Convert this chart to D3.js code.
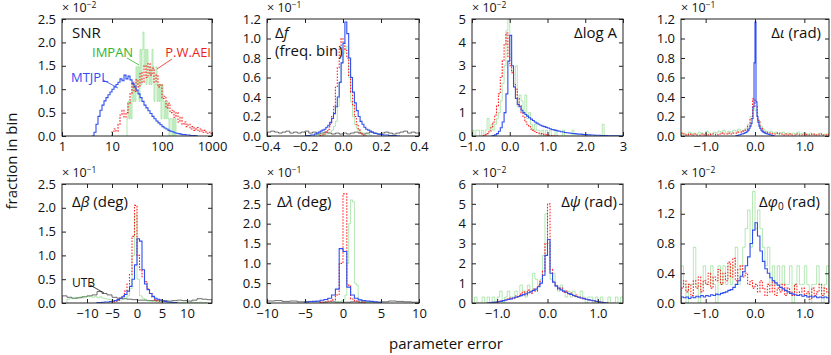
<!DOCTYPE html>
<html>
<head>
<meta charset="utf-8">
<script src="https://d3js.org/d3.v7.min.js"></script>
<style>
  body { margin: 0; background: #fff; }
  svg text { font-family: "Open Sans", "Noto Sans", sans-serif; fill: #111; }
  .tick text { font-size: 13px; }
  .tick line { stroke: #222; }
</style>
</head>
<body>
<div id="chart"></div>
<script>
// ---------- data (fraction in bin, in units of the panel multiplier) ----------
// each series: values + [first bin edge, bin width]

// SNR panel, bins in log10(SNR)
const snrBlue = [0, 0.08, 0.25, 0.42, 0.55, 0.66, 0.75, 0.82, 0.88, 0.94, 1.0, 1.05, 1.1, 1.15, 1.22, 1.18, 1.3, 1.22, 1.28, 1.2, 1.12, 1.05, 0.98, 0.9, 0.82, 0.74, 0.66, 0.6, 0.54, 0.48, 0.42, 0.37, 0.32, 0.28, 0.24, 0.2, 0.17, 0.15, 0.12, 0.1, 0.09, 0.07, 0.06, 0.05, 0.04, 0.03, 0.03, 0.02, 0.02, 0.01, 0.01, 0.01, 0];
const snrBlueBin = [0.6, 0.04];
const snrRed = [0.1, 0.15, 0.1, 0.25, 0.45, 0.55, 0.4, 0.5, 0.7, 0.9, 1.15, 0.95, 1.2, 1.05, 1.35, 1.15, 1.5, 1.25, 1.55, 1.3, 1.45, 1.15, 1.3, 1.05, 1.1, 0.8, 0.85, 0.6, 0.7, 0.5, 0.55, 0.4, 0.5, 0.3, 0.4, 0.25, 0.3, 0.2, 0.25, 0.15, 0.2, 0.12, 0.18, 0.1, 0.15, 0.08, 0.12, 0.06, 0.08, 0.05];
const snrRedBin = [1.0, 0.04];
const snrGreen = [0.37, 0.74, 0.37, 0.74, 0.37, 1.1, 0.74, 1.1, 0.74, 1.48, 1.1, 1.48, 0.74, 1.85, 1.1, 1.85, 2.22, 1.48, 1.85, 1.1, 1.85, 1.48, 1.1, 1.48, 1.1, 1.85, 1.48, 0.74, 1.1, 1.48, 0.74, 1.1, 0.74, 1.1, 0.37, 1.1, 0.74, 0.37, 0.74, 0.37, 0.74, 0.37, 0, 0.37, 0.37, 0, 0.37, 0, 0.37, 0];
const snrGreenBin = [1.3, 0.02];

// Delta f panel
const dfBlue = [0, 0.005, 0.005, 0.01, 0.01, 0.02, 0.03, 0.04, 0.05, 0.06, 0.07, 0.09, 0.11, 0.14, 0.18, 0.23, 0.3, 0.4, 0.55, 0.75, 0.95, 1.17, 1.05, 0.8, 0.6, 0.45, 0.34, 0.26, 0.2, 0.15, 0.12, 0.09, 0.07, 0.06, 0.05, 0.04, 0.03, 0.025, 0.02, 0.015, 0.015, 0.01, 0.01, 0.01, 0.005, 0.005, 0.005, 0.005, 0, 0];
const dfBlueBin = [-0.2, 0.01];
const dfRed = [0.005, 0.01, 0.02, 0.04, 0.07, 0.12, 0.2, 0.3, 0.5, 0.7, 0.9, 1.0, 0.95, 0.88, 0.8, 0.62, 0.45, 0.32, 0.2, 0.12, 0.06, 0.03, 0.01, 0.005];
const dfRedBin = [-0.12, 0.01];
const dfGreen = [0.01, 0.02, 0.01, 0.02, 0.01, 0.02, 0.02, 0.03, 0.04, 0.06, 0.1, 0.15, 0.3, 0.55, 0.75, 0.85, 0.9, 0.92, 0.6, 0.35, 0.2, 0.12, 0.08, 0.05, 0.04, 0.03, 0.03, 0.02, 0.02, 0.01];
const dfGreenBin = [-0.15, 0.01];
const dfBlack = [0.04, 0.05, 0.04, 0.03, 0.04, 0.05, 0.03, 0.04, 0.03, 0.04, 0.05, 0.03, 0.04, 0.02, 0.03, 0.04, 0.03, 0.02, 0.03, 0.02, 0.03, 0.02, 0.03, 0.04, 0.03, 0.02, 0.03, 0.04, 0.03, 0.02, 0.03, 0.04, 0.03, 0.02, 0.03, 0.04, 0.05, 0.03, 0.04, 0.03];
const dfBlackBin = [-0.4, 0.02];

// Delta log A panel
const logABlue = [0, 0.02, 0.05, 0.1, 0.2, 0.35, 0.6, 1.0, 1.8, 3.2, 4.3, 3.0, 2.1, 1.6, 1.35, 1.25, 1.1, 1.0, 0.92, 0.85, 0.78, 0.72, 0.66, 0.6, 0.55, 0.5, 0.46, 0.42, 0.4, 0.37, 0.34, 0.31, 0.28, 0.26, 0.24, 0.22, 0.2, 0.18, 0.17, 0.15, 0.14, 0.13, 0.12, 0.11, 0.1, 0.09, 0.08, 0.08, 0.07, 0.06, 0.06, 0.05, 0.05, 0.04, 0.04, 0.03, 0.03, 0.03, 0.02, 0.02, 0.02, 0.02, 0.01, 0.01, 0.01, 0.01, 0.01, 0.01, 0, 0];
const logABlueBin = [-0.5, 0.05];
const logARed = [0.02, 0.05, 0.1, 0.2, 0.4, 0.6, 0.9, 1.3, 1.8, 2.5, 3.2, 3.9, 4.4, 3.4, 3.0, 2.7, 2.2, 2.0, 1.6, 1.3, 1.0, 0.8, 0.6, 0.5, 0.4, 0.3, 0.25, 0.2, 0.15, 0.12, 0.1, 0.08, 0.06, 0.05, 0.03, 0.02, 0.02, 0.01, 0.01, 0];
const logARedBin = [-0.7, 0.05];
const logAGreen = [0.25, 0, 0.25, 0.25, 0, 0.25, 0, 0.25, 0.75, 0.25, 0.5, 0.25, 0.5, 0.75, 1.0, 1.5, 2.25, 3.0, 4.5, 5.0,
  3.5, 2.75, 2.25, 3.0, 1.25, 1.75, 1.5, 1.0, 1.75, 0.75, 1.0, 0.5, 0.25, 0.5, 0.25, 0.25, 0, 0.25, 0, 0.25,
  0, 0.25, 0, 0, 0.25, 0, 0, 0, 0.25, 0, 0, 0, 0, 0.25, 0, 0, 0, 0, 0, 0,
  0, 0, 0, 0, 0, 0, 0, 0, 0, 0.5, 0, 0, 0, 0, 0, 0, 0, 0, 0, 0];
const logAGreenBin = [-1.0, 0.05];

// Delta iota panel
const iotaBlue = [0, 0.005, 0.005, 0.01, 0.01, 0.015, 0.02, 0.02, 0.025, 0.03, 0.035, 0.04, 0.05, 0.06, 0.08, 0.1, 0.13, 0.18, 0.3, 0.75, 1.17, 0.35, 0.2, 0.14, 0.1, 0.08, 0.06, 0.05, 0.04, 0.035, 0.03, 0.025, 0.02, 0.02, 0.015, 0.01, 0.01, 0.005, 0.005, 0];
const iotaBlueBin = [-0.4, 0.02];
const iotaRed = [0.03, 0.02, 0.01, 0.02, 0.01, 0.02, 0.01, 0.01, 0.02, 0.01, 0.02, 0.01, 0.02, 0.02, 0.01, 0.02, 0.03, 0.02, 0.02, 0.03, 0.02, 0.03, 0.03, 0.04, 0.04, 0.05, 0.06, 0.1, 0.18, 0.38,
  0.3, 0.16, 0.08, 0.05, 0.04, 0.03, 0.03, 0.02, 0.02, 0.03, 0.02, 0.01, 0.02, 0.01, 0.02, 0.01, 0.01, 0.02, 0.01, 0.01, 0.02, 0.01, 0.01, 0.02, 0.01, 0.01, 0.02, 0.01, 0.01, 0.02];
const iotaRedBin = [-1.5, 0.05];
const iotaGreen = [0.02, 0.03, 0.01, 0.04, 0.02, 0.03, 0.02, 0.04, 0.03, 0.02, 0.05, 0.03, 0.02, 0.04, 0.03, 0.05, 0.04, 0.06, 0.03, 0.05, 0.04, 0.06, 0.05, 0.07, 0.05, 0.06, 0.08, 0.12, 0.2, 0.28,
  0.26, 0.15, 0.1, 0.07, 0.05, 0.04, 0.05, 0.03, 0.04, 0.02, 0.03, 0.04, 0.02, 0.03, 0.02, 0.03, 0.02, 0.04, 0.02, 0.03, 0.02, 0.01, 0.03, 0.02, 0.01, 0.02, 0.03, 0.01, 0.02, 0.01];
const iotaGreenBin = [-1.5, 0.05];

// Delta beta panel
const betaBlue = [0.01, 0.01, 0.015, 0.02, 0.02, 0.03, 0.04, 0.05, 0.07, 0.1, 0.13, 0.18, 0.25, 0.35, 0.5, 0.8, 1.35, 1.3, 0.7, 0.4, 0.28, 0.2, 0.14, 0.1, 0.08, 0.06, 0.04, 0.03, 0.02, 0.015, 0.01, 0.01];
const betaBlueBin = [-8, 0.5];
const betaRed = [0.02, 0.04, 0.06, 0.1, 0.15, 0.25, 0.4, 0.6, 1.4, 2.05, 1.0, 0.7, 0.55, 0.45, 0.3, 0.2, 0.12, 0.07, 0.04, 0.02];
const betaRedBin = [-5, 0.5];
const betaGreen = [0.08, 0.1, 0.09, 0.12, 0.1, 0.13, 0.11, 0.14, 0.13, 0.15, 0.12, 0.14, 0.11, 0.13, 0.1, 0.09,
  0.08, 0.07, 0.06, 0.05, 0.05, 0.06, 0.08, 0.1, 0.15, 0.3, 1.0, 1.85, 0.5, 0.15, 0.1, 0.07, 0.05, 0.04,
  0.03, 0.03, 0.02, 0.03, 0.02, 0.02, 0.02, 0.01, 0.02, 0.01, 0.02, 0.01, 0.01, 0.02, 0.01, 0.01, 0.02, 0.01, 0.01, 0.02, 0.01, 0.01];
const betaGreenBin = [-14, 0.5];
const betaBlack = [0.15, 0.12, 0.1, 0.11, 0.13, 0.15, 0.17, 0.24, 0.2, 0.17, 0.12, 0.1, 0.09, 0.08, 0.07, 0.06, 0.06, 0.05, 0.05, 0.06, 0.05, 0.04, 0.05, 0.06, 0.05, 0.04, 0.06, 0.09, 0.08, 0.07];
const betaBlackBin = [-15, 1];

// Delta lambda panel
const lambdaBlue = [0.02, 0.03, 0.04, 0.05, 0.07, 0.09, 0.12, 0.2, 0.35, 1.37, 1.3, 0.4, 0.2, 0.12, 0.08, 0.06, 0.05, 0.04, 0.03, 0.02];
const lambdaBlueBin = [-5, 0.5];
const lambdaRed = [0.02, 0.03, 0.05, 0.08, 0.2, 1.0, 2.75, 0.45, 0.1, 0.05, 0.03, 0.02];
const lambdaRedBin = [-3, 0.5];
const lambdaGreen = [0.02, 0.03, 0.03, 0.05, 0.08, 0.2, 1.0, 2.0, 2.6, 2.55, 0.5, 0.45, 0.1, 0.06, 0.04, 0.03, 0.02, 0.02, 0.01, 0.01];
const lambdaGreenBin = [-1, 0.25];
const lambdaBlack = [0.05, 0.06, 0.04, 0.05, 0.03, 0.04, 0.03, 0.02, 0.03, 0.02, 0.02, 0.03, 0.02, 0.03, 0.02, 0.03, 0.05, 0.04, 0.03, 0.02];
const lambdaBlackBin = [-10, 1];

// Delta psi panel
const psiBlue = [0, 0.02, 0.03, 0.04, 0.06, 0.08, 0.12, 0.15, 0.18, 0.21, 0.25, 0.29, 0.33, 0.37, 0.42, 0.47, 0.52, 0.57, 0.63, 0.7, 0.82, 1.0, 1.4, 2.4,
  3.2, 1.5, 1.05, 0.85, 0.75, 0.66, 0.6, 0.54, 0.48, 0.43, 0.38, 0.33, 0.29, 0.25, 0.22, 0.19, 0.16, 0.14, 0.11, 0.08, 0.06, 0.04, 0.02, 0];
const psiBlueBin = [-1.2, 0.05];
const psiRed = [0, 0.02, 0.03, 0.05, 0.06, 0.1, 0.12, 0.15, 0.2, 0.25, 0.22, 0.35, 0.3, 0.45, 0.55, 0.4, 0.65, 0.5, 0.7, 0.6, 0.85, 1.1, 1.6, 3.0,
  5.0, 1.7, 1.1, 0.9, 0.7, 0.75, 0.55, 0.6, 0.45, 0.5, 0.35, 0.4, 0.3, 0.25, 0.22, 0.18, 0.15, 0.12, 0.1, 0.07, 0.05, 0.03, 0.02, 0.01];
const psiRedBin = [-1.2, 0.05];
const psiGreen = [0, 0.3, 0, 0, 0.3, 0, 0.3, 0, 0.3, 0, 0.3, 0.6, 0, 0.3, 0.6, 0.3, 0.3, 0.6, 0.3, 0.9, 0.6, 0.3, 0.9, 0.6, 1.5, 1.2, 0.9, 1.2, 2.4, 4.5,
  3.0, 1.2, 1.5, 0.9, 0.6, 0.9, 0.6, 0.3, 0.6, 0.3, 0.6, 0.3, 0.3, 0.6, 0.3, 0, 0.3, 0.3, 0, 0.3, 0, 0.3, 0, 0, 0.3, 0, 0, 0.3, 0, 0.3];
const psiGreenBin = [-1.5, 0.05];

// Delta phi0 panel
const phiBlue = [0.08, 0.07, 0.08, 0.06, 0.08, 0.07, 0.09, 0.08, 0.1, 0.08, 0.1, 0.09, 0.11, 0.1, 0.12, 0.11, 0.13, 0.14, 0.15, 0.17, 0.18, 0.21, 0.25, 0.3, 0.36, 0.42, 0.5, 0.62, 0.8, 0.98,
  1.08, 0.9, 0.7, 0.56, 0.46, 0.4, 0.34, 0.3, 0.27, 0.24, 0.21, 0.19, 0.17, 0.15, 0.13, 0.12, 0.11, 0.1, 0.11, 0.09, 0.1, 0.08, 0.09, 0.08, 0.09, 0.07, 0.08, 0.07, 0.08, 0.07];
const phiBlueBin = [-1.5, 0.05];
const phiRed = [0.2, 0.3, 0.15, 0.25, 0.1, 0.3, 0.2, 0.35, 0.15, 0.3, 0.25, 0.4, 0.2, 0.35, 0.3, 0.45, 0.25, 0.4, 0.3, 0.55, 0.35, 0.6, 0.3, 0.45, 0.5, 0.35, 0.4, 0.25, 0.3, 0.2,
  0.25, 0.15, 0.3, 0.2, 0.1, 0.25, 0.15, 0.3, 0.1, 0.2, 0.15, 0.25, 0.1, 0.2, 0.15, 0.1, 0.25, 0.1, 0.15, 0.2, 0.1, 0.15, 0.05, 0.2, 0.1, 0.15, 0.25, 0.1, 0.2, 0.15];
const phiRedBin = [-1.5, 0.05];
const phiGreen = [0.5, 0.25, 0, 0.25, 0.25, 0.75, 0.25, 0, 0.25, 0.5, 0.25, 0.25, 0.5, 0.25, 0, 0.5, 0.25, 0.5, 0.25, 0.5, 0.25, 0.5, 0.75, 0.25, 0.5, 0.75, 1.0, 1.25, 0.75, 1.5,
  1.0, 1.25, 1.0, 0.75, 0.5, 0.75, 0.25, 0.5, 0.25, 0.5, 0.25, 0.5, 0.25, 0.25, 0.5, 0, 0.25, 0.5, 0.25, 0.25, 0.5, 0.25, 0, 0.25, 0.25, 0.5, 0.25, 0, 0.25, 0.5];
const phiGreenBin = [-1.5, 0.05];

// ---------- ticks ----------
const snrXTicks = [1, 10, 100, 1000];
const snrYTicks = [0, 0.5, 1, 1.5, 2, 2.5];
const dfXTicks = [-0.4, -0.2, 0, 0.2, 0.4];
const dfYTicks = [0, 0.2, 0.4, 0.6, 0.8, 1.0, 1.2];
const logAXTicks = [-1, 0, 1, 2, 3];
const logAXLabels = ["\u22121.0", "0.0", "1.0", "2.0", "3"];
const logAYTicks = [0, 1, 2, 3, 4, 5];
const radXTicks = [-1, 0, 1];
const iotaYTicks = [0, 0.2, 0.4, 0.6, 0.8, 1.0, 1.2];
const degXTicks = [-10, -5, 0, 5, 10];
const betaYTicks = [0, 0.5, 1, 1.5, 2, 2.5];
const lambdaYTicks = [0, 0.5, 1, 1.5, 2, 2.5, 3];
const psiYTicks = [0, 1, 2, 3, 4, 5, 6];
const phiYTicks = [0, 0.4, 0.8, 1.2, 1.6];

// ---------- layout ----------
const lefts = [62, 267, 472, 681];
const widths = [150, 152, 151, 148];
const tops = [19, 184];
const heights = [117, 119];

const styles = {
  green: { stroke: "#5ccb5c", width: 1, opacity: 0.45, dash: null },
  black: { stroke: "#333", width: 0.8, opacity: 0.9, dash: null },
  red: { stroke: "#ff2020", width: 1.1, opacity: 1, dash: "1.6,1.4" },
  blue: { stroke: "#2f4ff0", width: 1.1, opacity: 1, dash: null }
};

const f1 = d3.format(".1f"), fd = d3.format("d");

const panels = [
  { r: 0, c: 0, log: true, xd: [1, 1000], xt: snrXTicks, xf: fd, yd: [0, 2.5], yt: snrYTicks, yf: f1, exp: "\u22122",
    series: [["green", snrGreen, snrGreenBin], ["red", snrRed, snrRedBin], ["blue", snrBlue, snrBlueBin]] },
  { r: 0, c: 1, xd: [-0.4, 0.4], xt: dfXTicks, xf: f1, yd: [0, 1.2], yt: dfYTicks, yf: f1, exp: "\u22121",
    series: [["black", dfBlack, dfBlackBin], ["green", dfGreen, dfGreenBin], ["red", dfRed, dfRedBin], ["blue", dfBlue, dfBlueBin]] },
  { r: 0, c: 2, xd: [-1, 3], xt: logAXTicks, xf: (d, i) => logAXLabels[i], yd: [0, 5], yt: logAYTicks, yf: fd, exp: "\u22122",
    series: [["green", logAGreen, logAGreenBin], ["red", logARed, logARedBin], ["blue", logABlue, logABlueBin]] },
  { r: 0, c: 3, xd: [-1.5, 1.5], xt: radXTicks, xf: f1, yd: [0, 1.2], yt: iotaYTicks, yf: f1, exp: "\u22121",
    series: [["green", iotaGreen, iotaGreenBin], ["red", iotaRed, iotaRedBin], ["blue", iotaBlue, iotaBlueBin]] },
  { r: 1, c: 0, xd: [-15, 15], xt: degXTicks, xf: fd, yd: [0, 2.5], yt: betaYTicks, yf: f1, exp: "\u22121",
    series: [["black", betaBlack, betaBlackBin], ["green", betaGreen, betaGreenBin], ["red", betaRed, betaRedBin], ["blue", betaBlue, betaBlueBin]] },
  { r: 1, c: 1, xd: [-10, 10], xt: degXTicks, xf: fd, yd: [0, 3], yt: lambdaYTicks, yf: f1, exp: "\u22121",
    series: [["black", lambdaBlack, lambdaBlackBin], ["green", lambdaGreen, lambdaGreenBin], ["red", lambdaRed, lambdaRedBin], ["blue", lambdaBlue, lambdaBlueBin]] },
  { r: 1, c: 2, xd: [-1.5, 1.5], xt: radXTicks, xf: f1, yd: [0, 6], yt: psiYTicks, yf: fd, exp: "\u22122",
    series: [["green", psiGreen, psiGreenBin], ["red", psiRed, psiRedBin], ["blue", psiBlue, psiBlueBin]] },
  { r: 1, c: 3, xd: [-1.5, 1.5], xt: radXTicks, xf: f1, yd: [0, 1.6], yt: phiYTicks, yf: f1, exp: "\u22122",
    series: [["green", phiGreen, phiGreenBin], ["red", phiRed, phiRedBin], ["blue", phiBlue, phiBlueBin]] }
];

const svg = d3.select("#chart").append("svg")
  .attr("width", 831).attr("height", 355);

// step outline of a histogram
function stepPath(x, y, vals, bin, isLog) {
  const edge = i => isLog ? Math.pow(10, bin[0] + i * bin[1]) : bin[0] + i * bin[1];
  const pts = [[edge(0), 0]];
  vals.forEach((v, i) => pts.push([edge(i), v]));
  pts.push([edge(vals.length), vals[vals.length - 1]]);
  pts.push([edge(vals.length), 0]);
  return d3.line().x(d => x(d[0])).y(d => y(d[1])).curve(d3.curveStepAfter)(pts);
}

const gs = [];
panels.forEach((p, k) => {
  const w = widths[p.c], h = heights[p.r];
  const g = svg.append("g").attr("transform", `translate(${lefts[p.c]},${tops[p.r]})`);
  gs.push(g);
  const x = (p.log ? d3.scaleLog() : d3.scaleLinear()).domain(p.xd).range([0, w]);
  const y = d3.scaleLinear().domain(p.yd).range([h, 0]);

  g.append("clipPath").attr("id", "clip" + k)
    .append("rect").attr("width", w).attr("height", h);

  const plot = g.append("g").attr("clip-path", `url(#clip${k})`);
  p.series.forEach(([key, vals, bin]) => {
    const s = styles[key];
    plot.append("path")
      .attr("d", stepPath(x, y, vals, bin, p.log))
      .attr("fill", "none")
      .attr("stroke", s.stroke)
      .attr("stroke-width", s.width)
      .attr("stroke-opacity", s.opacity)
      .attr("stroke-dasharray", s.dash);
  });

  // axes with inward ticks on all four sides
  g.append("g").attr("transform", `translate(0,${h})`)
    .call(d3.axisBottom(x).tickValues(p.xt).tickFormat(p.xf).tickSizeInner(-4).tickSizeOuter(0).tickPadding(6));
  g.append("g")
    .call(d3.axisLeft(y).tickValues(p.yt).tickFormat(p.yf).tickSizeInner(-4).tickSizeOuter(0).tickPadding(6));
  g.append("g")
    .call(d3.axisTop(x).tickValues(p.xt).tickFormat("").tickSizeInner(-4).tickSizeOuter(0));
  g.append("g").attr("transform", `translate(${w},0)`)
    .call(d3.axisRight(y).tickValues(p.yt).tickFormat("").tickSizeInner(-4).tickSizeOuter(0));
  g.selectAll(".domain").remove();
  g.selectAll(".tick text").attr("fill", "#111");

  g.append("rect").attr("width", w).attr("height", h)
    .attr("fill", "none").attr("stroke", "#222").attr("stroke-width", 1);

  // multiplier
  const m = g.append("text").attr("x", 0).attr("y", p.r === 0 ? -7 : -7)
    .attr("font-size", 12.5).text("\u00d7 10");
  m.append("tspan").attr("dy", -4).attr("font-size", 8.5).text(p.exp);
});

// ---------- panel labels ----------
function label(k, xPos, yPos, anchor, parts, size) {
  const t = gs[k].append("text").attr("x", xPos).attr("y", yPos)
    .attr("text-anchor", anchor).attr("font-size", size || 15);
  parts.forEach(pt => {
    const s = t.append("tspan").text(pt[0]);
    if (pt[1] === "i") s.attr("font-style", "italic");
    if (pt[1] === "sub") s.attr("font-size", 10).attr("dy", 3);
    if (pt[1] === "after") s.attr("dy", -3);
  });
  return t;
}
label(0, 10, 19, "start", [["SNR"]]);
label(1, 8, 19, "start", [["\u0394"], ["f", "i"]]);
label(1, 8, 37, "start", [["(freq. bin)"]]);
label(2, widths[2] - 6, 19, "end", [["\u0394log A"]]);
label(3, widths[3] - 8, 19, "end", [["\u0394"], ["\u03b9", "i"], [" (rad)"]]);
label(4, 10, 23, "start", [["\u0394"], ["\u03b2", "i"], [" (deg)"]]);
label(5, 10, 23, "start", [["\u0394"], ["\u03bb", "i"], [" (deg)"]]);
label(6, widths[2] - 6, 23, "end", [["\u0394"], ["\u03c8", "i"], [" (rad)"]]);
label(7, widths[3] - 9, 23, "end", [["\u0394"], ["\u03c6", "i"], ["0", "sub"], [" (rad)", "after"]]);

// ---------- group annotations ----------
function note(k, txt, color, tx, ty, anchor, line, size) {
  gs[k].append("line")
    .attr("x1", line[0]).attr("y1", line[1]).attr("x2", line[2]).attr("y2", line[3])
    .attr("stroke", color).attr("stroke-width", 0.8);
  gs[k].append("text").attr("x", tx).attr("y", ty).attr("text-anchor", anchor)
    .attr("font-size", size || 13).style("fill", color).text(txt);
}
note(0, "IMPAN", "#2fb52f", 30, 38, "start", [65, 39, 77, 46]);
note(0, "P.W.AEI", "#ee1c1c", 149, 38, "end", [110, 40, 95, 50]);
note(0, "MTJPL", "#2f4ff0", 9, 63, "start", [41, 61, 56, 69]);
note(4, "UTB", "#111", 10, 103, "start", [28, 101, 42, 109], 12);

// ---------- axis titles ----------
svg.append("text")
  .attr("transform", "translate(17,161) rotate(-90)")
  .attr("text-anchor", "middle").attr("font-size", 15)
  .text("fraction in bin");
svg.append("text")
  .attr("x", 446).attr("y", 349)
  .attr("text-anchor", "middle").attr("font-size", 15)
  .text("parameter error");
</script>
</body>
</html>
